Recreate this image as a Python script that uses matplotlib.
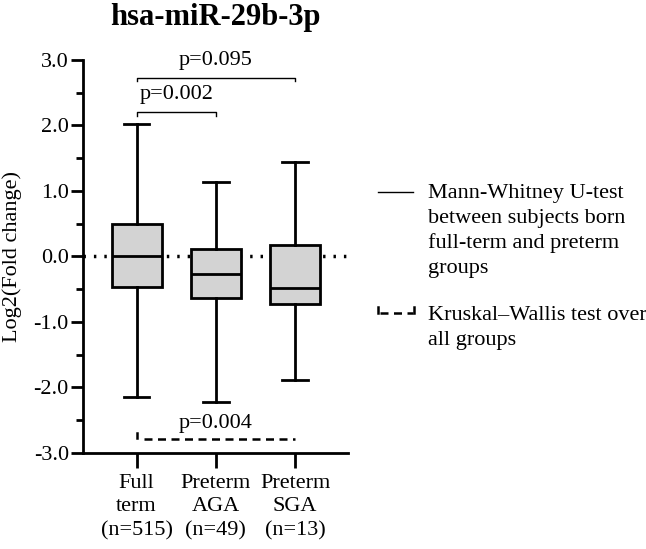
import matplotlib.pyplot as plt
from matplotlib.lines import Line2D

plt.rcParams['font.family'] = ['Liberation Serif', 'DejaVu Serif']

groups = ['Full\nterm\n(n=515)', 'Preterm\nAGA\n(n=49)', 'Preterm\nSGA\n(n=13)']
whislo = [-2.14, -2.23, -1.89]
q1 = [-0.46, -0.64, -0.72]
med = [0.0, -0.265, -0.49]
q3 = [0.50, 0.11, 0.17]
whishi = [2.02, 1.13, 1.44]

p_mw = ['p=0.002', 'p=0.095']
p_kw = 'p=0.004'

legend_mw = ['Mann-Whitney U-test', 'between subjects born',
             'full-term and preterm', 'groups']
legend_kw = ['Kruskal\u2013Wallis test over', 'all groups']

fs = 16
W, H = 646, 549

fig = plt.figure(figsize=(6.46, 5.49), dpi=100)
ax = fig.add_axes([0.128, 0.175, 0.411, 0.716])

stats = []
for i in range(len(groups)):
    stats.append({'whislo': whislo[i], 'q1': q1[i], 'med': med[i],
                  'q3': q3[i], 'whishi': whishi[i], 'fliers': []})

lw = 2.0
ax.bxp(stats, positions=range(len(groups)), widths=0.63, showfliers=False,
       patch_artist=True, capwidths=0.32,
       boxprops=dict(facecolor='#d3d3d3', edgecolor='black', linewidth=lw),
       medianprops=dict(color='black', linewidth=lw),
       whiskerprops=dict(color='black', linewidth=lw),
       capprops=dict(color='black', linewidth=lw), zorder=3)

# dotted zero line
ax.axhline(0, color='black', lw=2.5, dashes=(0.7, 2.3), zorder=1)

# Mann-Whitney brackets
ax.plot([0, 0, 1, 1], [2.15, 2.2, 2.2, 2.15], color='black', lw=1.0)
ax.plot([0, 0, 2, 2], [2.67, 2.72, 2.72, 2.67], color='black', lw=1.0)
ax.text(0.5, 2.32, p_mw[0], ha='center', va='bottom', fontsize=fs)
ax.text(1.0, 2.85, p_mw[1], ha='center', va='bottom', fontsize=fs)

# Kruskal-Wallis
ax.plot([0, 0], [-2.70, -2.77], color='black', lw=1.8)
ax.plot([0.09, 2], [-2.78, -2.78], color='black', lw=1.8, dashes=(3.2, 2.2))
ax.text(1.0, -2.70, p_kw, ha='center', va='bottom', fontsize=fs)

ax.set_xlim(-0.68, 2.67)
ax.set_ylim(-3.0, 3.0)
ax.set_yticks([-3, -2, -1, 0, 1, 2, 3])
ax.set_yticks([-2.5, -1.5, -0.5, 0.5, 1.5, 2.5], minor=True)
ax.yaxis.set_major_formatter(plt.FuncFormatter(lambda v, p: f'{v:.1f}'))
ax.set_xticks(range(len(groups)))
ax.set_xticklabels(groups, fontsize=fs, linespacing=1.33)
ax.tick_params(axis='y', which='major', labelsize=fs, length=9, width=2, pad=1)
ax.tick_params(axis='y', which='minor', length=5, width=2)
ax.tick_params(axis='x', length=11, width=2, pad=4)
for s in ['top', 'right']:
    ax.spines[s].set_visible(False)
for s in ['left', 'bottom']:
    ax.spines[s].set_linewidth(2)
ax.set_ylabel('Log2(Fold change)', fontsize=fs, labelpad=8)
ax.set_title('hsa-miR-29b-3p', fontsize=22, fontweight='bold', pad=25)

# legend drawn by hand (pixel positions converted to figure fraction)
def fx(px):
    return px / W

def fy(py):
    return 1 - py / H

fig.add_artist(Line2D([fx(378), fx(413)], [fy(192), fy(192)], color='black', lw=1.0))
for k, line in enumerate(legend_mw):
    fig.text(fx(428), fy(198 + 25 * k), line, fontsize=fs, va='baseline', ha='left')

fig.add_artist(Line2D([fx(380), fx(413)], [fy(313), fy(313)], color='black', lw=1.8,
                      dashes=(3.2, 2.2)))
fig.add_artist(Line2D([fx(378), fx(378)], [fy(313), fy(307)], color='black', lw=1.8))
fig.add_artist(Line2D([fx(414), fx(414)], [fy(313), fy(307)], color='black', lw=1.8))
for k, line in enumerate(legend_kw):
    fig.text(fx(428), fy(320 + 25 * k), line, fontsize=fs, va='baseline', ha='left')

fig.savefig('out.png', dpi=100)
